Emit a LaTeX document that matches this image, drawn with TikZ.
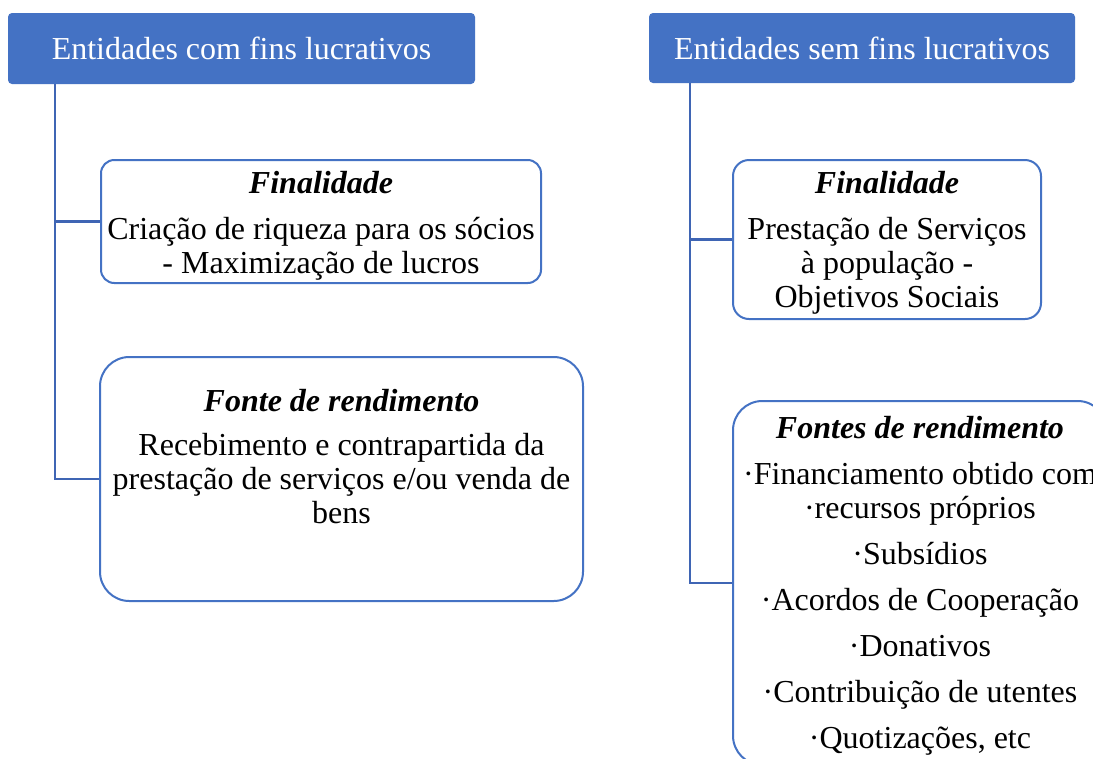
\documentclass[tikz,border=0pt]{standalone}
\usepackage{fontspec}
\setmainfont{Liberation Serif}
\usetikzlibrary{positioning}
\definecolor{accent}{HTML}{4472C4}
\definecolor{linkblue}{HTML}{3F65B4}
\tikzset{
x=0.75pt, y=-0.75pt, % one unit is one pixel of the reference
every node/.style={font=\fontsize{24}{25.5}\selectfont},
header/.style={fill=accent, text=white, rounded corners=3pt, inner sep=0pt},
box/.style={draw=accent, line width=1.5pt, fill=white, inner sep=0pt},
txt/.style={align=center, inner sep=0pt},
conn/.style={draw=linkblue, line width=1.6pt},
}
\newcommand{\ttl}[1]{\textbf{\textit{#1}}}
\begin{document}
\begin{tikzpicture}
\clip (0,0) rectangle (1093,758);
\fill[white] (0,0) rectangle (1093,758);
% headers
\node[header, minimum width=467*0.75pt, minimum height=71*0.75pt] (hl) at (241.5,48.5) {Entidades com fins lucrativos};
\node[header, minimum width=426*0.75pt, minimum height=70*0.75pt] (hr) at (862,48) {Entidades sem fins lucrativos};
% left boxes
\node[box, rounded corners=10pt, minimum width=440*0.75pt, minimum height=123*0.75pt] (lfin) at (321,221.5) {};
\node[box, rounded corners=22pt, minimum width=483*0.75pt, minimum height=244*0.75pt] (lfon) at (341.5,479) {};
% right boxes
\node[box, rounded corners=12pt, minimum width=308*0.75pt, minimum height=159*0.75pt] (rfin) at (887,239.5) {};
\node[box, rounded corners=22pt, minimum width=374*0.75pt, minimum height=364*0.75pt] (rfon) at (920,583) {};
% texts
\node[txt, below=9pt of lfin.north] (lfint) {\ttl{Finalidade}\\[8.75pt]
Criação de riqueza para os sócios\\ - Maximização de lucros};
\node[txt, below=24.5pt of lfon.north] (lfont) {\ttl{Fonte de rendimento}\\[7.5pt]
Recebimento e contrapartida da\\ prestação de serviços e/ou venda de\\ bens};
\node[txt, below=9pt of rfin.north] (rfint) {\ttl{Finalidade}\\[8.75pt]
Prestação de Serviços\\ à população -\\ Objetivos Sociais};
\node[txt, below=12pt of rfon.north] (rfont) {\ttl{Fontes de rendimento}\\[8.75pt]
·Financiamento obtido com\\ ·recursos próprios\\[9pt] ·Subsídios\\[9pt]
·Acordos de Cooperação\\[9pt] ·Donativos\\[9pt] ·Contribuição de utentes\\[9pt]
·Quotizações, etc};
% connectors
\coordinate (ltop) at ([xshift=47*0.75pt]hl.south west);
\coordinate (rtop) at ([xshift=41*0.75pt]hr.south west);
\draw[conn] (ltop) |- (lfin.west);
\draw[conn] (ltop) |- (lfon.west);
\draw[conn] (rtop) |- (rfin.west);
\draw[conn] (rtop) |- (rfon.west);
\end{tikzpicture}
\end{document}
